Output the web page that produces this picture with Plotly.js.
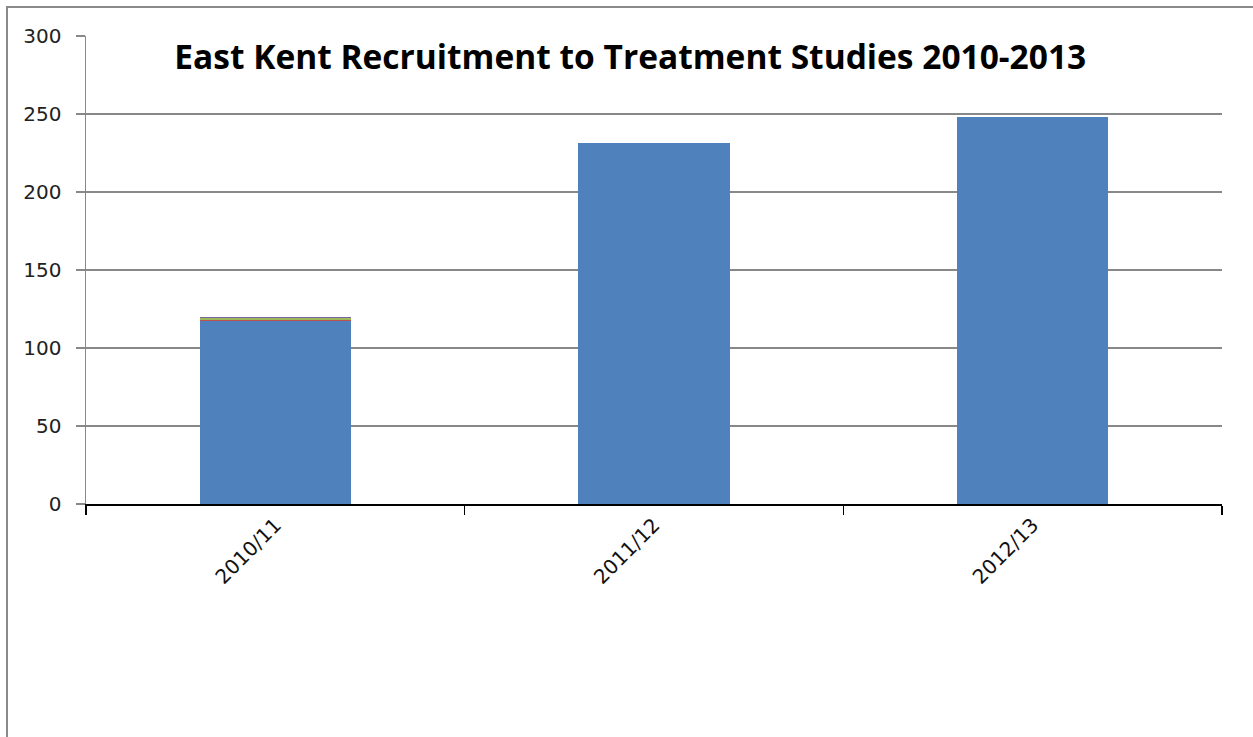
<!DOCTYPE html>
<html>
<head>
<meta charset="utf-8">
<script src="https://cdn.plot.ly/plotly-3.0.1.min.js"></script>
<style>
html,body{margin:0;padding:0;overflow:hidden;background:#fff;}
#frame{position:absolute;left:6px;top:6px;width:1270px;height:760px;border:2px solid #8a8a8a;box-sizing:border-box;pointer-events:none;z-index:5;}
#chart{position:absolute;left:0;top:0;width:1253px;height:737px;}
</style>
</head>
<body>
<div id="chart"></div>
<div id="frame"></div>
<script>
const categories = ["2010/11", "2011/12", "2012/13"];
const seriesBlue = [117, 231.5, 248.3];
const seriesRed = [0.8, 0, 0];
const seriesGreen = [1.2, 0, 0];
const seriesPurple = [0.6, 0, 0];
const yTicks = [0, 50, 100, 150, 200, 250, 300];
const titleText = "East Kent Recruitment to Treatment Studies 2010-2013";

const colors = ["#4F81BD", "#C0504D", "#9BBB59", "#8064A2"];
const allSeries = [seriesBlue, seriesRed, seriesGreen, seriesPurple];
const traces = allSeries.map((vals, i) => ({
  type: "bar",
  x: categories,
  y: vals,
  marker: {color: colors[i], line: {width: 0}},
  hoverinfo: "x+y",
  showlegend: false
}));

const layout = {
  width: 1253, height: 737,
  margin: {l: 86, r: 31, t: 36, b: 233},
  barmode: "stack",
  bargap: 0.6,
  paper_bgcolor: "#fff",
  plot_bgcolor: "#fff",
  font: {family: "DejaVu Sans, sans-serif", color: "#000"},
  title: {
    text: "<b>" + titleText + "</b>",
    font: {family: "Open Sans, Liberation Sans, sans-serif", size: 33.5, color: "#000"},
    x: 0.503, xanchor: "center",
    y: 0.955, yanchor: "middle", yref: "paper"
  },
  xaxis: {
    type: "category",
    tickson: "boundaries",
    ticks: "outside",
    ticklen: 9,
    tickcolor: "#000",
    tickwidth: 1.3,
    showline: true,
    linecolor: "#000",
    linewidth: 1.5,
    tickangle: -45,
    tickfont: {family: "DejaVu Sans, sans-serif", size: 20, color: "#111"},
    showgrid: false,
    zeroline: false
  },
  yaxis: {
    range: [0, 300],
    tickvals: yTicks,
    ticktext: yTicks.map(String),
    ticks: "outside",
    ticklen: 9,
    tickcolor: "#888",
    tickwidth: 1.3,
    showline: true,
    linecolor: "#888",
    linewidth: 1.5,
    showgrid: true,
    gridcolor: "#888",
    gridwidth: 1.2,
    zeroline: false,
    tickfont: {family: "DejaVu Sans, sans-serif", size: 20, color: "#222"},
    ticklabelstandoff: 10
  }
};

Plotly.newPlot("chart", traces, layout, {displayModeBar: false, staticPlot: true});
</script>
</body>
</html>
